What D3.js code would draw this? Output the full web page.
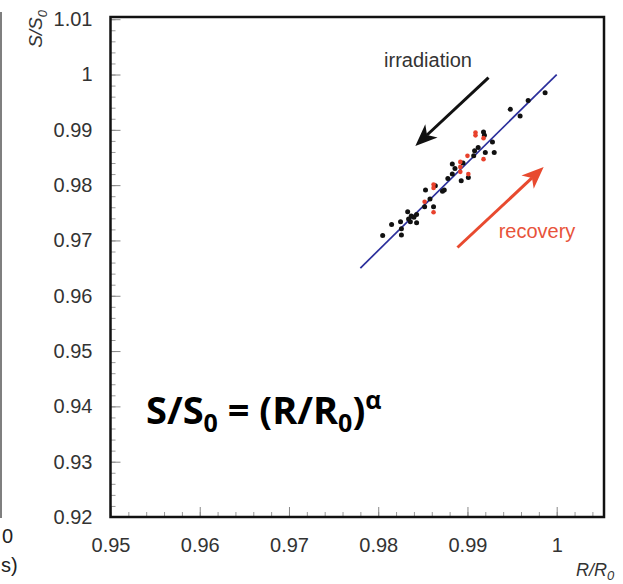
<!DOCTYPE html>
<html>
<head>
<meta charset="UTF-8">
<script src="https://d3js.org/d3.v7.min.js"></script>
<style>
  body { margin: 0; background: #fff; }
  text { font-family: "Liberation Sans", Arial, sans-serif; }
</style>
</head>
<body>
<svg id="chart" width="623" height="584"></svg>
<script>
// ticks
const xTicks = [0.95, 0.96, 0.97, 0.98, 0.99, 1.0];
const yTicks = [0.92, 0.93, 0.94, 0.95, 0.96, 0.97, 0.98, 0.99, 1.0, 1.01];

// irradiation points (black), [R/R0, S/S0]
const irrX = [0.9805, 0.9815, 0.9825, 0.9826, 0.9826, 0.9833, 0.9834, 0.9837, 0.9836, 0.9843,
              0.9843, 0.9840, 0.9853, 0.9852, 0.9862, 0.9858, 0.9872, 0.9874, 0.9864, 0.9883,
              0.9883, 0.9886, 0.9893, 0.9901, 0.9907, 0.9908, 0.9918, 0.9919, 0.9920, 0.9928,
              0.9930, 0.9948, 0.9959, 0.9968, 0.9987, 0.9895, 0.9912, 0.9878];
const irrY = [0.9709, 0.9729, 0.9734, 0.9710, 0.9721, 0.9752, 0.9739, 0.9744, 0.9734, 0.9747,
              0.9732, 0.9742, 0.9791, 0.9761, 0.9761, 0.9775, 0.9789, 0.9791, 0.9799, 0.9838,
              0.9820, 0.9830, 0.9808, 0.9814, 0.9853, 0.9862, 0.9896, 0.9890, 0.9859, 0.9878,
              0.9859, 0.9937, 0.9925, 0.9953, 0.9967, 0.9840, 0.9868, 0.9812];

// recovery points (red)
const recX = [0.9862, 0.9862, 0.9862, 0.9852, 0.9892, 0.9892, 0.9892, 0.9901, 0.9909, 0.9909,
              0.9918, 0.9918, 0.9900];
const recY = [0.9801, 0.9795, 0.9751, 0.9770, 0.9842, 0.9833, 0.9824, 0.9820, 0.9895, 0.9890,
              0.9847, 0.9885, 0.9853];

// fit S/S0 = (R/R0)^alpha
const fitX = [0.978, 1.0];
const fitY = [0.965, 1.0];

// arrows [x1, y1, x2, y2] in data units
const irrArrow = [0.99236, 0.99945, 0.98416, 0.98709];
const recArrow = [0.98888, 0.96873, 0.99854, 0.98327];

const svg = d3.select("#chart");

const x = d3.scaleLinear().domain([0.95, 1.0053]).range([110.5, 604]);
const y = d3.scaleLinear().domain([0.92, 1.0104]).range([517, 17]);

// minor ticks
const xMinor = d3.range(0, 28).map(i => 0.95 + i * 0.002);
const yMinor = d3.range(0, 46).map(i => 0.92 + i * 0.002);

svg.append("g")
    .attr("transform", "translate(110.5,0)")
    .call(d3.axisLeft(y).tickValues(yMinor).tickSize(-5).tickFormat(""))
    .call(g => g.select(".domain").remove())
    .call(g => g.selectAll("line").attr("stroke", "#999"));

svg.append("g")
    .attr("transform", "translate(0,517)")
    .call(d3.axisBottom(x).tickValues(xMinor).tickSize(-5).tickFormat(""))
    .call(g => g.select(".domain").remove())
    .call(g => g.selectAll("line").attr("stroke", "#999"));

svg.append("g")
    .attr("transform", "translate(110.5,0)")
    .call(d3.axisLeft(y).tickValues(yTicks).tickSize(-10).tickPadding(18)
        .tickFormat(d => String(+d.toFixed(2))))
    .call(g => g.select(".domain").remove())
    .call(g => g.selectAll("line").attr("stroke", "#888"))
    .call(g => g.selectAll("text").attr("fill", "#333").style("font-size", "20px")
        .style("font-family", "'Liberation Sans', Arial, sans-serif"));

svg.append("g")
    .attr("transform", "translate(0,517)")
    .call(d3.axisBottom(x).tickValues(xTicks).tickSize(-10).tickPadding(21)
        .tickFormat(d => String(+d.toFixed(2))))
    .call(g => g.select(".domain").remove())
    .call(g => g.selectAll("line").attr("stroke", "#888"))
    .call(g => g.selectAll("text").attr("fill", "#333").style("font-size", "20px")
        .style("font-family", "'Liberation Sans', Arial, sans-serif"));

// frame
svg.append("rect")
    .attr("x", x(0.95)).attr("y", y(1.0104))
    .attr("width", x(1.0053) - x(0.95)).attr("height", y(0.92) - y(1.0104))
    .attr("fill", "none").attr("stroke", "#111").attr("stroke-width", 2.5);

// fit line
svg.append("line")
    .attr("x1", x(fitX[0])).attr("y1", y(fitY[0]))
    .attr("x2", x(fitX[1])).attr("y2", y(fitY[1]))
    .attr("stroke", "#2b2f9c").attr("stroke-width", 1.7);

// points
svg.selectAll(".irr")
    .data(irrX.map((v, i) => [v, irrY[i]]))
    .enter().append("circle")
    .attr("class", "irr")
    .attr("cx", d => x(d[0])).attr("cy", d => y(d[1]))
    .attr("r", 2.5).attr("fill", "#111");

svg.selectAll(".rec")
    .data(recX.map((v, i) => [v, recY[i]]))
    .enter().append("circle")
    .attr("class", "rec")
    .attr("cx", d => x(d[0])).attr("cy", d => y(d[1]))
    .attr("r", 2.3).attr("fill", "#e8412c");

function arrow(a, color) {
  const x1 = x(a[0]), y1 = y(a[1]), x2 = x(a[2]), y2 = y(a[3]);
  const ang = Math.atan2(y2 - y1, x2 - x1);
  const L = 22, W = 9;
  const bx = x2 - L * Math.cos(ang), by = y2 - L * Math.sin(ang);
  const nx = -Math.sin(ang), ny = Math.cos(ang);
  const mx = x2 - (L - 6) * Math.cos(ang), my = y2 - (L - 6) * Math.sin(ang);
  svg.append("line")
      .attr("x1", x1).attr("y1", y1).attr("x2", mx).attr("y2", my)
      .attr("stroke", color).attr("stroke-width", 3);
  svg.append("path")
      .attr("d", `M${x2},${y2}L${bx + nx * W},${by + ny * W}L${mx},${my}L${bx - nx * W},${by - ny * W}Z`)
      .attr("fill", color);
}
arrow(irrArrow, "#111");
arrow(recArrow, "#e84a2f");

svg.append("text")
    .attr("x", 428).attr("y", 67).attr("text-anchor", "middle")
    .attr("fill", "#333").style("font-size", "20px")
    .text("irradiation");

svg.append("text")
    .attr("x", 537).attr("y", 238).attr("text-anchor", "middle")
    .attr("fill", "#e8533a").style("font-size", "20px")
    .text("recovery");

// formula
const f = svg.append("text")
    .attr("x", 146).attr("y", 424)
    .attr("fill", "#000")
    .style("font-family", "'Open Sans', sans-serif")
    .style("font-weight", "bold").style("font-size", "38px");
f.append("tspan").text("S/S");
f.append("tspan").attr("dy", 8).style("font-size", "25px").text("0");
f.append("tspan").attr("dy", -8).text(" = (R/R");
f.append("tspan").attr("dy", 8).style("font-size", "25px").text("0");
f.append("tspan").attr("dy", -8).text(")");
f.append("tspan").attr("dy", -15).style("font-size", "25px").text("α");

// axis titles
const xt = svg.append("text")
    .attr("x", 576).attr("y", 576)
    .attr("fill", "#333").style("font-size", "18px").style("font-style", "italic");
xt.append("tspan").text("R/R");
xt.append("tspan").attr("dy", 4).style("font-size", "13px").text("0");

const yt = svg.append("text")
    .attr("transform", "translate(42,10) rotate(-90)")
    .attr("text-anchor", "end")
    .attr("fill", "#333").style("font-size", "19px").style("font-style", "italic");
yt.append("tspan").text("S/S");
yt.append("tspan").attr("dy", 5).style("font-size", "13px").text("0");

// neighbouring panel remnants
svg.append("line")
    .attr("x1", 1).attr("y1", 12).attr("x2", 1).attr("y2", 518)
    .attr("stroke", "#555").attr("stroke-width", 1.5);
svg.append("text").attr("x", 13).attr("y", 543).attr("text-anchor", "end")
    .attr("fill", "#222").style("font-size", "20px").text("0");
svg.append("text").attr("x", 1).attr("y", 572)
    .attr("fill", "#222").style("font-size", "20px").text("s)");
</script>
</body>
</html>
